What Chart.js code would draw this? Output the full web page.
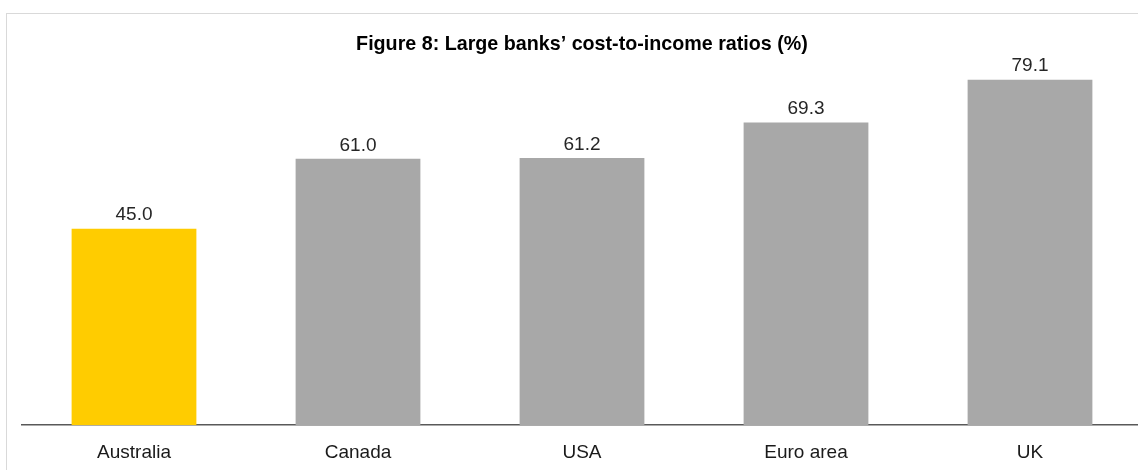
<!DOCTYPE html>
<html>
<head>
<meta charset="utf-8">
<script src="https://cdn.jsdelivr.net/npm/chart.js@4"></script>
<style>
  html, body { margin: 0; padding: 0; background: #fff; overflow: hidden; }
  .frame {
    position: absolute; left: 6px; top: 13px; width: 1200px; height: 500px;
    border-left: 1px solid #d9d9d9; border-top: 1px solid #d9d9d9;
  }
  .wrap { position: absolute; left: 0; top: 0; width: 1143px; height: 480px; }
</style>
</head>
<body>
<div class="frame"></div>
<div class="wrap"><canvas id="costChart"></canvas></div>
<script>
const categories = ['Australia', 'Canada', 'USA', 'Euro area', 'UK'];
const ratios = [45.0, 61.0, 61.2, 69.3, 79.1];
const barColors = ['#ffcc00', '#a8a8a8', '#a8a8a8', '#a8a8a8', '#a8a8a8'];

// Print each bar's value just above it
const valueLabels = {
  id: 'valueLabels',
  afterDatasetsDraw(chart) {
    const ctx = chart.ctx;
    const meta = chart.getDatasetMeta(0);
    ctx.save();
    ctx.font = '19px "Liberation Sans", Arial, sans-serif';
    ctx.fillStyle = '#262626';
    ctx.textAlign = 'center';
    ctx.textBaseline = 'bottom';
    meta.data.forEach((bar, i) => {
      ctx.fillText(ratios[i].toFixed(1), bar.x, bar.y - 4);
    });
    ctx.restore();
  }
};

new Chart(document.getElementById('costChart'), {
  type: 'bar',
  data: {
    labels: categories,
    datasets: [{
      data: ratios,
      backgroundColor: barColors,
      borderWidth: 0,
      categoryPercentage: 1,
      barPercentage: 0.557
    }]
  },
  options: {
    responsive: true,
    maintainAspectRatio: false,
    animation: false,
    layout: { padding: { left: 22, right: 1, top: 0, bottom: 8 } },
    plugins: {
      legend: { display: false },
      tooltip: { enabled: false },
      title: {
        display: true,
        text: 'Figure 8: Large banks’ cost-to-income ratios (%)',
        color: '#000',
        font: { family: '"Liberation Sans", Arial, sans-serif', size: 19.7, weight: 'bold' },
        padding: { top: 32.5, bottom: 0 }
      }
    },
    scales: {
      x: {
        grid: { display: false },
        border: { display: true, color: '#595959', width: 1.5 },
        ticks: {
          color: '#1a1a1a',
          padding: 8,
          font: { family: '"Liberation Sans", Arial, sans-serif', size: 19 }
        }
      },
      y: {
        display: false,
        min: 0,
        max: 84.5
      }
    }
  },
  plugins: [valueLabels]
});
</script>
</body>
</html>
